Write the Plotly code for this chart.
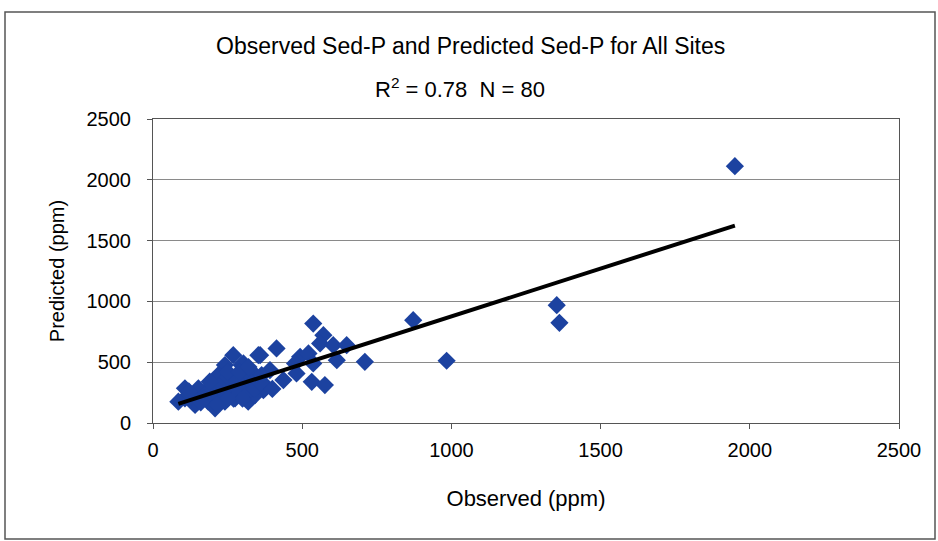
import plotly.graph_objects as go

# Observed vs predicted Sed-P (ppm)
observed = [
    537, 571, 560, 414, 604, 649, 359, 303, 493, 521, 537, 476, 616, 710, 481, 437,
    532, 576, 392, 381, 347, 325, 314, 370, 336, 303,
    269, 353, 241, 297, 219, 264, 319, 364, 197, 152, 107, 107, 85, 141, 185, 208,
    241, 275, 319, 342, 297, 353, 375, 241, 174, 219, 286,
    230, 260, 280, 310, 250, 290, 330, 200, 170, 130, 120, 270, 300, 340, 360, 220,
    190, 280, 320, 250, 215, 160, 400,
    872, 984, 1353, 1362, 1950,
]
predicted = [
    818, 722, 654, 613, 640, 640, 558, 490, 544, 572, 490, 490, 517, 503, 408, 353,
    339, 312, 435, 298, 380, 435, 353, 271, 244, 298,
    558, 558, 476, 476, 394, 367, 394, 394, 312, 285, 285, 203, 175, 148, 175, 121,
    175, 203, 175, 230, 285, 312, 285, 285, 230, 216, 257,
    330, 250, 350, 240, 420, 420, 330, 260, 200, 220, 260, 200, 200, 280, 330, 300,
    340, 300, 460, 200, 150, 170, 280,
    846, 512, 969, 824, 2112,
]
trend_x = [85, 1950]
trend_slope = 0.786
trend_intercept = 91
tick_vals = [0, 500, 1000, 1500, 2000, 2500]

title_text = "Observed Sed-P and Predicted Sed-P for All Sites"
subtitle_text = "R<sup>2</sup> = 0.78  N = 80"
x_title = "Observed (ppm)"
y_title = "Predicted (ppm)"

W, H = 938, 541
L, R, T, B = 153, 899, 119, 423

def px(xp):
    return (xp - L) / (R - L)

def py(yp):
    return (B - yp) / (B - T)

trend_y = [trend_slope * v + trend_intercept for v in trend_x]

fig = go.Figure()
fig.add_trace(go.Scatter(
    x=observed, y=predicted, mode="markers",
    marker=dict(symbol="diamond", size=14, color="#1c42a0",
                line=dict(width=0)),
    showlegend=False, cliponaxis=False,
))
fig.add_trace(go.Scatter(
    x=trend_x, y=trend_y, mode="lines",
    line=dict(color="black", width=4),
    showlegend=False,
))

font = "Arial, Liberation Sans, sans-serif"
fig.update_layout(
    width=W, height=H,
    margin=dict(l=L, r=W - R, t=T, b=H - B),
    paper_bgcolor="white", plot_bgcolor="white",
    font=dict(family=font, color="black", size=20),
    xaxis=dict(range=[0, 2500], tickvals=tick_vals, showgrid=False,
               showline=True, linecolor="#555", linewidth=1, mirror=True,
               ticks="outside", ticklen=5, tickcolor="#555", zeroline=False,
               tickfont=dict(size=20), ticklabelstandoff=4,
               title=dict(text=x_title, font=dict(size=22), standoff=30)),
    yaxis=dict(range=[0, 2500], tickvals=tick_vals, showgrid=True,
               gridcolor="#8a8a8a", gridwidth=1,
               showline=True, linecolor="#555", linewidth=1, mirror=True,
               ticks="outside", ticklen=5, tickcolor="#555", zeroline=False,
               tickfont=dict(size=20), ticklabelstandoff=12,
               title=dict(text=y_title, font=dict(size=20), standoff=16)),
    annotations=[
        dict(text=title_text, x=px(470), y=py(46), xref="paper", yref="paper",
             showarrow=False, font=dict(size=23), xanchor="center", yanchor="middle"),
        dict(text=subtitle_text, x=px(460), y=py(88), xref="paper", yref="paper",
             showarrow=False, font=dict(size=22), xanchor="center", yanchor="middle"),
    ],
    shapes=[
        dict(type="rect", xref="paper", yref="paper",
             x0=px(5), x1=px(935), y0=py(539), y1=py(12),
             line=dict(color="#555", width=1.5), layer="below"),
    ],
)

fig.write_html("out.html", config={"displayModeBar": False},
               post_script="document.body.style.margin='0';document.body.style.overflow='hidden';")
